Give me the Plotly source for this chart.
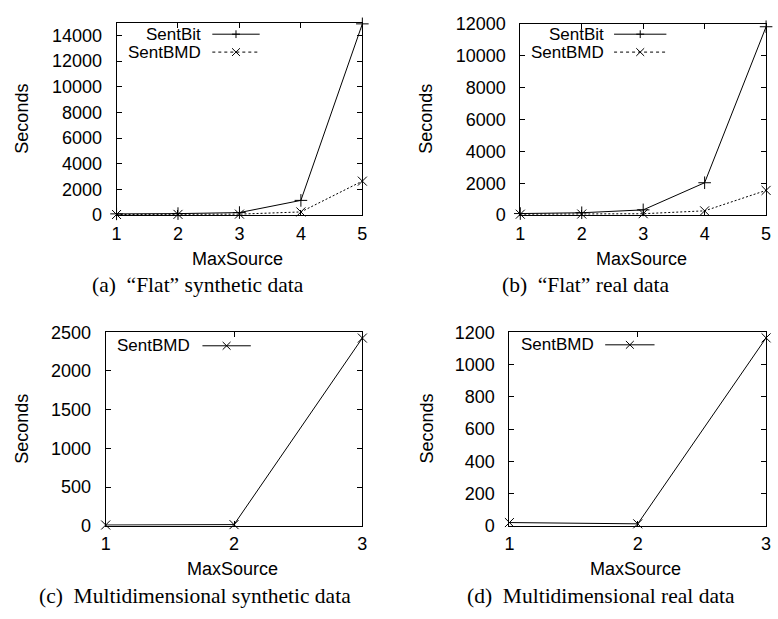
import plotly.graph_objects as go

W, H = 778, 619

# ---------------- data ----------------
flat_x = [1, 2, 3, 4, 5]
syn_sentbit = [100, 120, 200, 1150, 14900]
syn_sentbmd = [50, 60, 80, 250, 2650]
real_sentbit = [100, 150, 330, 2030, 11800]
real_sentbmd = [60, 70, 90, 270, 1550]

multi_x = [1, 2, 3]
multi_syn_sentbmd = [10, 15, 2425]
multi_real_sentbmd = [20, 12, 1165]

captions = ["(a)  \u201cFlat\u201d synthetic data", "(b)  \u201cFlat\u201d real data",
            "(c)  Multidimensional synthetic data", "(d)  Multidimensional real data"]

SANS = "Liberation Sans, Arial, sans-serif"
SERIF = "Liberation Serif, Times New Roman, serif"
FS = 18
KFS = 17


def px(x):
    return x / W


def py(y):
    return 1 - y / H


# plot-area boxes in pixels: (left, right, top, bottom)
boxes = {
    "a": (113, 362, 13, 212),
    "b": (522, 771, 14, 212),
    "c": (102, 362, 333, 533),
    "d": (511, 771, 333, 533),
}

fig = go.Figure()

panels = [
    ("a", "x", "y", flat_x, [("SentBit", syn_sentbit, "solid", "cross-thin-open"),
                             ("SentBMD", syn_sentbmd, "2px,2px", "x-thin-open")],
     [0, 15000], list(range(0, 14001, 2000)), [1, 5]),
    ("b", "x2", "y2", flat_x, [("SentBit", real_sentbit, "solid", "cross-thin-open"),
                               ("SentBMD", real_sentbmd, "2px,2px", "x-thin-open")],
     [0, 12000], list(range(0, 12001, 2000)), [1, 5]),
    ("c", "x3", "y3", multi_x, [("SentBMD", multi_syn_sentbmd, "solid", "x-thin-open")],
     [0, 2500], list(range(0, 2501, 500)), [1, 3]),
    ("d", "x4", "y4", multi_x, [("SentBMD", multi_real_sentbmd, "solid", "x-thin-open")],
     [0, 1200], list(range(0, 1201, 200)), [1, 3]),
]

# key layout per panel: (text right x, first row y, line x0, line x1, row step)
keys = {
    "a": (200, 25, 210, 258, 18.5),
    "b": (608, 25, 617, 670, 18.5),
    "c": (188, 347, 200, 249, 18.5),
    "d": (598, 346, 608, 658, 18.5),
}

shapes = []
annotations = []

for idx, (key, xa, ya, xs, series, yr, yt, xr) in enumerate(panels):
    for name, vals, dash, sym in series:
        fig.add_trace(go.Scatter(
            x=xs, y=vals, mode="lines+markers", name=name, showlegend=False,
            xaxis=xa, yaxis=ya, cliponaxis=False,
            line=dict(color="black", width=1, dash=dash),
            marker=dict(symbol=sym, size=9, color="black", line=dict(color="black", width=1)),
        ))
    l, r, t, b = boxes[key]
    axn = "" if idx == 0 else str(idx + 1)
    common = dict(showline=True, linecolor="black", linewidth=1, mirror="ticks",
                  ticks="inside", ticklen=5, tickcolor="black", tickwidth=1,
                  showgrid=False, zeroline=False,
                  tickfont=dict(family=SANS, size=FS, color="black"))
    fig.update_layout(**{
        "xaxis" + axn: dict(domain=[px(l), px(r)], range=xr, tickvals=xs,
                            ticktext=[str(v) for v in xs],
                            anchor="y" + axn, ticklabelstandoff=2, **common),
        "yaxis" + axn: dict(domain=[py(b), py(t)], range=yr, tickvals=yt,
                            ticktext=[str(v) for v in yt],
                            anchor="x" + axn, ticklabelstandoff=10, **common),
    })
    # axis titles
    annotations.append(dict(text="MaxSource", x=px((l + r) / 2 - 2), y=py(b + 45),
                            xref="paper", yref="paper", showarrow=False,
                            font=dict(family=SANS, size=FS, color="black"),
                            xanchor="center", yanchor="middle"))
    annotations.append(dict(text="Seconds", x=px(17 if key in "ac" else 427), y=py((t + b) / 2),
                            xref="paper", yref="paper", showarrow=False, textangle=-90,
                            font=dict(family=SANS, size=FS, color="black"),
                            xanchor="center", yanchor="middle"))
    # caption
    cx = {"a": 196, "b": 589, "c": 192, "d": 604}[key]
    cy = 284 if key in "ab" else 606
    annotations.append(dict(text=captions[idx], x=px(cx), y=py(cy),
                            xref="paper", yref="paper", showarrow=False,
                            font=dict(family=SERIF, size=21.5, color="black"),
                            xanchor="center", yanchor="middle"))
    # key (gnuplot style: text, then sample line with marker)
    tx, ty, lx0, lx1, step = keys[key]
    for j, (name, vals, dash, sym) in enumerate(series):
        yy = ty + j * step
        annotations.append(dict(text=name, x=px(tx), y=py(yy), xref="paper", yref="paper",
                                showarrow=False, xanchor="right", yanchor="middle",
                                borderpad=0,
                                font=dict(family=SANS, size=KFS, color="black")))
        sdash = "solid" if dash == "solid" else "dot"
        shapes.append(dict(type="line", xref="paper", yref="paper",
                           x0=px(lx0), x1=px(lx1), y0=py(yy), y1=py(yy),
                           line=dict(color="black", width=1, dash=sdash)))
        mx = (lx0 + lx1) / 2
        s = 4
        if sym.startswith("cross"):
            path = (f"M{px(mx - s)},{py(yy)} L{px(mx + s)},{py(yy)} "
                    f"M{px(mx)},{py(yy - s)} L{px(mx)},{py(yy + s)}")
        else:
            path = (f"M{px(mx - s)},{py(yy - s)} L{px(mx + s)},{py(yy + s)} "
                    f"M{px(mx - s)},{py(yy + s)} L{px(mx + s)},{py(yy - s)}")
        shapes.append(dict(type="path", xref="paper", yref="paper", path=path,
                           line=dict(color="black", width=1)))

fig.update_layout(width=W, height=H, margin=dict(l=0, r=0, t=0, b=0),
                  paper_bgcolor="white", plot_bgcolor="white",
                  shapes=shapes, annotations=annotations, showlegend=False)

fig.write_html("out.html")
